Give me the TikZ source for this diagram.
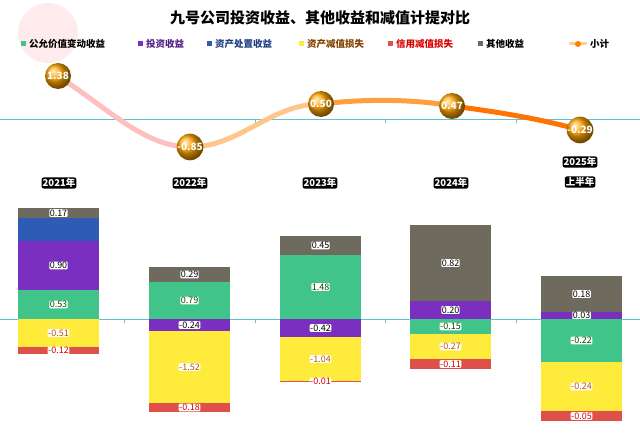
\documentclass[tikz,border=0pt]{standalone}
\usepackage{fontspec}
\setmainfont{Noto Sans CJK SC}
\definecolor{cgreen}{HTML}{40C48A}
\definecolor{cpurple}{HTML}{7A2FC0}
\definecolor{cblue}{HTML}{2F5BB5}
\definecolor{cyellow}{HTML}{FFEB3B}
\definecolor{cred}{HTML}{E0504A}
\definecolor{cgrey}{HTML}{6E6B5E}
\definecolor{caxis}{HTML}{5BC0D8}
\definecolor{cball}{HTML}{FFA500}
\tikzset{
  seglabel/.style={fill=white, rounded corners=1pt, inner sep=0.5pt, font=\fontsize{9}{10}\selectfont},
  yearlabel/.style={fill=black, text=white, rounded corners=2pt, inner sep=1pt, font=\bfseries\fontsize{9.5}{10}\selectfont},
  dot/.style={circle, minimum size=26pt, inner sep=0pt, shading=ball, ball color=cball, text=white, font=\bfseries\fontsize{10}{11}\selectfont},
  legtext/.style={anchor=west, inner sep=0pt, font=\bfseries\fontsize{9.5}{10}\selectfont},
}
% one stacked segment: x-left, y-top, y-bottom, colour, label
\newcommand{\seg}[6]{%
  \fill[#4] (#1,#2) rectangle (#1+81,#3);
  \node[seglabel, text=#5] at (#1+40.5,{(#2+#3)/2}) {#6};
}
\begin{document}
\begin{tikzpicture}[x=1pt, y=-1pt]
        \useasboundingbox (0,0) rectangle (640,438);
        \fill[red!8] (48,33) circle (30);
        \node[font=\bfseries\fontsize{15}{16}\selectfont] (title) at (320,18) {九号公司投资收益、其他收益和减值计提对比};

        % legend
        \fill[cgreen]  (21,41) rectangle (26,46);
        \node[legtext] (l1) at (29,44) {公允价值变动收益};
        \fill[cpurple] (138,41) rectangle (143,46);
        \node[legtext, text=cpurple!70!black] (l2) at (146,44) {投资收益};
        \fill[cblue]   (207,41) rectangle (212,46);
        \node[legtext, text=cblue!70!black] (l3) at (215,44) {资产处置收益};
        \fill[cyellow] (299,41) rectangle (304,46);
        \node[legtext, text=orange!50!black] (l4) at (307,44) {资产减值损失};
        \fill[cred]    (388,41) rectangle (393,46);
        \node[legtext, text=red!85!black] (l5) at (396,44) {信用减值损失};
        \fill[cgrey]   (478,41) rectangle (483,46);
        \node[legtext] (l6) at (486,44) {其他收益};
        \draw[line width=3pt, orange!40, line cap=round] (570,44) -- (586,44);
        \fill[orange] (578,44) circle (3);
        \node[legtext] (l7) at (590,44) {小计};

        % axes
        \draw[caxis, thick] (0,119) -- (640,119);
        \draw[caxis, thick] (0,319) -- (640,319);
        \foreach \t in {124,255,385,516} {
          \draw[caxis] (\t,119) -- (\t,123);
          \draw[caxis] (\t,319) -- (\t,323);
        }

        % bars
        \seg{18}{208}{218}{cgrey}{black}{0.17}
        \fill[cblue] (18,218) rectangle (99,241);
        \seg{18}{241}{290}{cpurple}{black}{0.90}
        \seg{18}{290}{319}{cgreen}{green!30!black}{0.53}
        \seg{18}{319}{347}{cyellow}{orange!70!black}{-0.51}
        \seg{18}{347}{354}{cred}{red!85!black}{-0.12}

        \seg{149}{267}{282}{cgrey}{black}{0.29}
        \seg{149}{282}{319}{cgreen}{green!30!black}{0.79}
        \seg{149}{319}{331}{cpurple}{black}{-0.24}
        \seg{149}{331}{403}{cyellow}{orange!70!black}{-1.52}
        \seg{149}{403}{412}{cred}{red!85!black}{-0.18}

        \seg{280}{236}{255}{cgrey}{black}{0.45}
        \seg{280}{255}{319}{cgreen}{green!30!black}{1.48}
        \seg{280}{319}{337}{cpurple}{black}{-0.42}
        \seg{280}{337}{381}{cyellow}{orange!70!black}{-1.04}
        \seg{280}{381}{382}{cred}{red!85!black}{-0.01}

        \seg{410}{225}{301}{cgrey}{black}{0.82}
        \seg{410}{301}{319}{cpurple}{black}{0.20}
        \seg{410}{319}{334}{cgreen}{green!30!black}{-0.15}
        \seg{410}{334}{359}{cyellow}{orange!70!black}{-0.27}
        \seg{410}{359}{369}{cred}{red!85!black}{-0.11}

        \seg{541}{276}{312}{cgrey}{black}{0.18}
        \seg{541}{312}{319}{cpurple}{black}{0.03}
        \seg{541}{319}{362}{cgreen}{green!30!black}{-0.22}
        \seg{541}{362}{411}{cyellow}{orange!70!black}{-0.24}
        \seg{541}{411}{421}{cred}{red!85!black}{-0.05}

        % years
        \node[yearlabel] (y1) at (59,183) {2021年};
        \node[yearlabel] (y2) at (190,183) {2022年};
        \node[yearlabel] (y3) at (320,183) {2023年};
        \node[yearlabel] (y4) at (451,183) {2024年};
        \node[yearlabel] (y5a) at (580,162) {2025年};
        \node[yearlabel] (y5b) at (580,182) {上半年};

        % subtotal line
        \coordinate (c1) at (58,76);
        \coordinate (c2) at (190,147);
        \coordinate (c3) at (321,104);
        \coordinate (c4) at (452,106);
        \coordinate (c5) at (580,130);
        \draw[line width=5pt, red!25] (c1) .. controls (110,110) and (145,147) .. (c2);
        \draw[line width=5pt, orange!45] (c2) .. controls (240,147) and (270,104) .. (c3);
        \draw[line width=5pt, orange!75] (c3) .. controls (370,98) and (420,100) .. (c4);
        \draw[line width=5pt, orange!90!red] (c4) .. controls (500,112) and (545,120) .. (c5);
        \node[dot] (p1) at (c1) {1.38};
        \node[dot] (p2) at (c2) {-0.85};
        \node[dot] (p3) at (c3) {0.50};
        \node[dot] (p4) at (c4) {0.47};
        \node[dot] (p5) at (c5) {-0.29};
\end{tikzpicture}
\end{document}
